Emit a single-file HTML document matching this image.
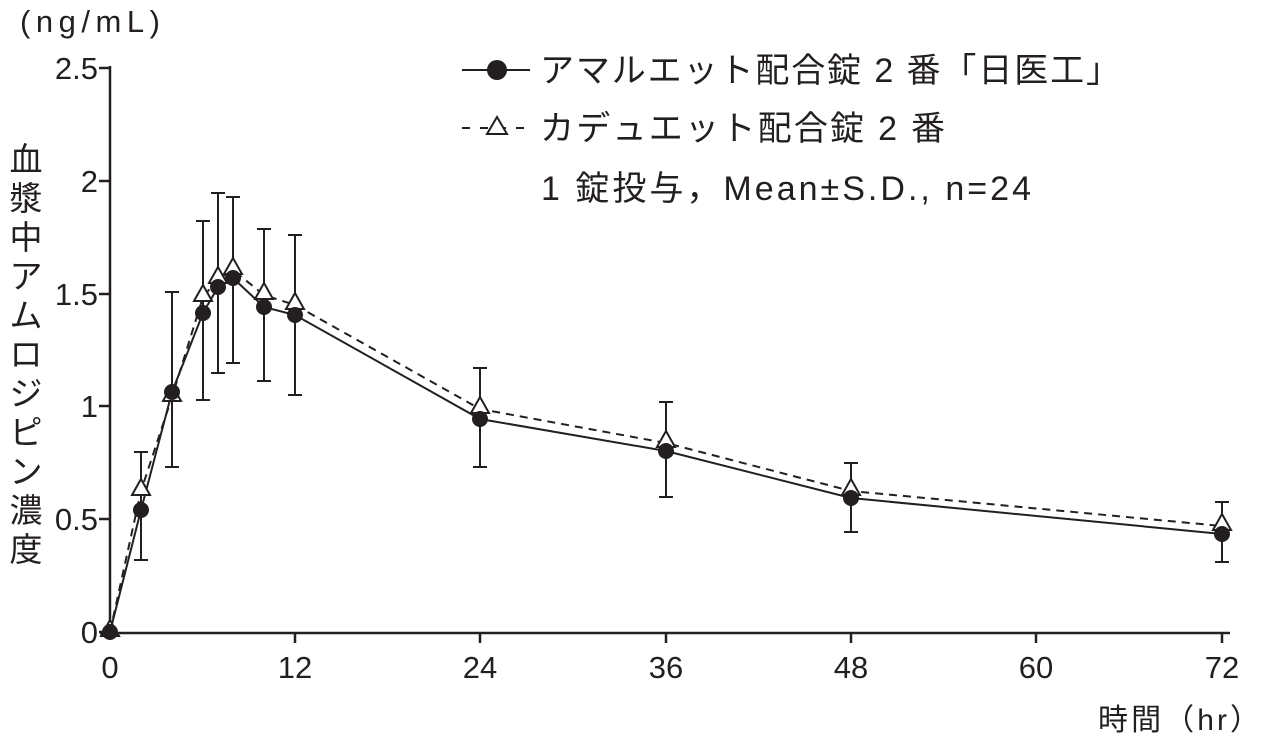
<!DOCTYPE html>
<html><head><meta charset="utf-8"><style>
body{margin:0;background:#fff}
svg{display:block}
text{font-family:"Liberation Sans","Noto Sans CJK JP",sans-serif;fill:#231f20}
</style></head><body>
<svg width="1264" height="739" viewBox="0 0 1264 739" xmlns="http://www.w3.org/2000/svg">
<g stroke="#231f20" stroke-width="2.5" fill="none">
<line x1="110" y1="66" x2="110" y2="633"/>
<line x1="100" y1="633" x2="1230" y2="633"/>
<line x1="99" y1="68" x2="110" y2="68"/>
<line x1="99" y1="181" x2="110" y2="181"/>
<line x1="99" y1="294" x2="110" y2="294"/>
<line x1="99" y1="406" x2="110" y2="406"/>
<line x1="99" y1="519" x2="110" y2="519"/>
<line x1="99" y1="632" x2="110" y2="632"/>
<line x1="295" y1="633" x2="295" y2="643"/>
<line x1="480" y1="633" x2="480" y2="643"/>
<line x1="666" y1="633" x2="666" y2="643"/>
<line x1="851" y1="633" x2="851" y2="643"/>
<line x1="1036" y1="633" x2="1036" y2="643"/>
<line x1="1222" y1="633" x2="1222" y2="643"/>
</g>
<g font-size="31" text-anchor="end">
<text x="98" y="79">2.5</text><text x="98" y="192">2</text><text x="98" y="305">1.5</text>
<text x="98" y="417">1</text><text x="98" y="530">0.5</text><text x="98" y="643">0</text>
</g>
<g font-size="31" text-anchor="middle">
<text x="110" y="678">0</text><text x="295" y="678">12</text><text x="480" y="678">24</text>
<text x="666" y="678">36</text><text x="851" y="678">48</text><text x="1036" y="678">60</text><text x="1222" y="678">72</text>
</g>
<text x="1098" y="730" font-size="30" textLength="162">時間（hr）</text>
<text x="20" y="32" font-size="31" textLength="140">(ng/mL)</text>
<g font-size="33" text-anchor="middle">
<text x="26" y="171">血</text><text x="26" y="210">漿</text><text x="26" y="249">中</text>
<text x="26" y="288">ア</text><text x="26" y="327">ム</text><text x="26" y="366">ロ</text>
<text x="26" y="405">ジ</text><text x="26" y="444">ピ</text><text x="26" y="483">ン</text>
<text x="26" y="522">濃</text><text x="26" y="561">度</text>
</g>
<g stroke="#231f20" stroke-width="2" fill="none">
<path d="M141 452V560M134 452H148M134 560H148"/>
<path d="M172 292V467M165 292H179M165 467H179"/>
<path d="M203 221V400M196 221H210M196 400H210"/>
<path d="M218 193V373M211 193H225M211 373H225"/>
<path d="M233 197V363M226 197H240M226 363H240"/>
<path d="M264 229V381M257 229H271M257 381H271"/>
<path d="M295 235V395M288 235H302M288 395H302"/>
<path d="M480 368V467M473 368H487M473 467H487"/>
<path d="M666 402V497M659 402H673M659 497H673"/>
<path d="M851 463V532M844 463H858M844 532H858"/>
<path d="M1222 502V562M1215 502H1229M1215 562H1229"/>
</g>
<polyline fill="none" stroke="#231f20" stroke-width="2" stroke-dasharray="8,6" points="110,632 141,491 172,397 203,297 218,279 233,270 264,295 295,305 480,409 666,443 851,491 1222,526"/>
<polyline fill="none" stroke="#231f20" stroke-width="2" points="110,632 141,510 172,392 203,313 218,287 233,278 264,307 295,315 480,419 666,451 851,498 1222,534"/>
<g fill="#fff" stroke="#231f20" stroke-width="2">
<path d="M110 620l-9 16h18z"/><path d="M141 479l-9 16h18z"/><path d="M172 385l-9 16h18z"/>
<path d="M203 285l-9 16h18z"/><path d="M218 267l-9 16h18z"/><path d="M233 258l-9 16h18z"/>
<path d="M264 283l-9 16h18z"/><path d="M295 293l-9 16h18z"/><path d="M480 397l-9 16h18z"/>
<path d="M666 431l-9 16h18z"/><path d="M851 479l-9 16h18z"/><path d="M1222 514l-9 16h18z"/>
</g>
<g fill="#231f20">
<circle cx="110" cy="632" r="8"/><circle cx="141" cy="510" r="8"/><circle cx="172" cy="392" r="8"/>
<circle cx="203" cy="313" r="8"/><circle cx="218" cy="287" r="8"/><circle cx="233" cy="278" r="8"/>
<circle cx="264" cy="307" r="8"/><circle cx="295" cy="315" r="8"/><circle cx="480" cy="419" r="8"/>
<circle cx="666" cy="451" r="8"/><circle cx="851" cy="498" r="8"/><circle cx="1222" cy="534" r="8"/>
</g>
<line x1="462" y1="70" x2="530" y2="70" stroke="#231f20" stroke-width="2"/>
<circle cx="497" cy="70" r="10" fill="#231f20"/>
<line x1="462" y1="128" x2="530" y2="128" stroke="#231f20" stroke-width="2" stroke-dasharray="8,10"/>
<path d="M497 117l-10 17h20z" fill="#fff" stroke="#231f20" stroke-width="2"/>
<text x="540" y="82" font-size="34" textLength="580">アマルエット配合錠 2 番「日医工」</text>
<text x="540" y="140" font-size="34" textLength="405">カデュエット配合錠 2 番</text>
<text x="541" y="200" font-size="34" textLength="490">1 錠投与，Mean±S.D., n=24</text>
</svg>
</body></html>
